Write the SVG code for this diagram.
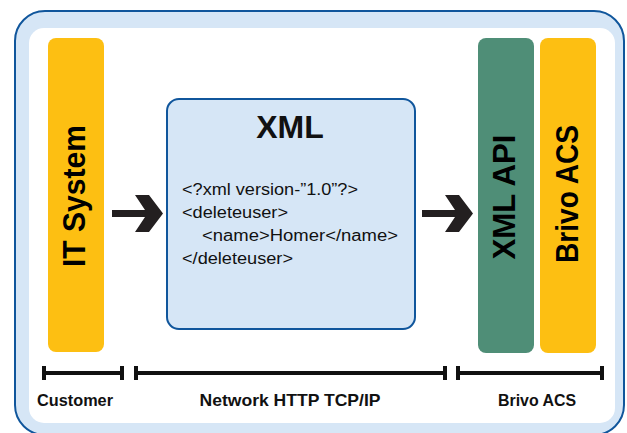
<svg xmlns="http://www.w3.org/2000/svg" width="627" height="433" viewBox="0 0 627 433">
<style>
.bar{rx:8;ry:8}
.vt{font-family:"Liberation Sans",Arial,sans-serif;font-weight:bold;font-size:31px;fill:#000;text-anchor:middle}
.code{font-family:"Liberation Sans",Arial,sans-serif;font-size:16px;fill:#111}
.lbl{font-family:"Liberation Sans",Arial,sans-serif;font-weight:bold;font-size:16.5px;fill:#111;text-anchor:middle}
.arrow{fill:#231f20}
.scale{stroke:#111;stroke-width:4;fill:none}
</style>
<defs>
<polygon id="arr" points="112,210 145,210 135,195 149,195 163,213.5 149,232 135,232 145,217 112,217"/>
</defs>
<g id="frame">
<rect x="15" y="11" width="609" height="424" rx="30" fill="#d6e6f6" stroke="#10569c" stroke-width="2"/>
<rect x="29" y="28" width="586" height="395" rx="15" fill="#ffffff"/>
</g>
<g id="it-system">
<rect class="bar" x="48" y="38" width="56" height="314" fill="#fdbf12"/>
<text class="vt" transform="translate(85,196) rotate(-90)" textLength="142" lengthAdjust="spacingAndGlyphs">IT System</text>
</g>
<g id="xml">
<rect x="167" y="99" width="248" height="230" rx="12" fill="#d6e6f6" stroke="#10569c" stroke-width="2"/>
<text x="290" y="138" font-family="Liberation Sans, Arial, sans-serif" font-weight="bold" font-size="32" text-anchor="middle" fill="#111">XML</text>
<text class="code" x="182" y="195" textLength="176" lengthAdjust="spacingAndGlyphs">&lt;?xml version-”1.0”?&gt;</text>
<text class="code" x="182" y="218" textLength="106" lengthAdjust="spacingAndGlyphs">&lt;deleteuser&gt;</text>
<text class="code" x="202" y="241" textLength="196" lengthAdjust="spacingAndGlyphs">&lt;name&gt;Homer&lt;/name&gt;</text>
<text class="code" x="182" y="264" textLength="111" lengthAdjust="spacingAndGlyphs">&lt;/deleteuser&gt;</text>
</g>
<g id="xml-api">
<rect class="bar" x="478" y="38" width="56" height="315" fill="#4f8e77"/>
<text class="vt" transform="translate(515,197) rotate(-90)" textLength="125" lengthAdjust="spacingAndGlyphs">XML API</text>
</g>
<g id="brivo-acs">
<rect class="bar" x="540" y="38" width="56" height="315" fill="#fdbf12"/>
<text class="vt" transform="translate(578,194) rotate(-90)" textLength="138" lengthAdjust="spacingAndGlyphs">Brivo ACS</text>
</g>
<g id="connectors">
<use href="#arr" class="arrow"/>
<use href="#arr" class="arrow" transform="translate(310,0)"/>
</g>
<g id="scale">
<path class="scale" d="M42,373 H124 M44,366 V380 M122,366 V380"/>
<path class="scale" d="M134,373 H447 M136,366 V380 M445,366 V380"/>
<path class="scale" d="M456,373 H604 M458,366 V380 M602,366 V380"/>
<text class="lbl" x="75" y="406" textLength="76" lengthAdjust="spacingAndGlyphs">Customer</text>
<text class="lbl" x="290" y="406" textLength="181" lengthAdjust="spacingAndGlyphs">Network HTTP TCP/IP</text>
<text class="lbl" x="537" y="406" textLength="78" lengthAdjust="spacingAndGlyphs">Brivo ACS</text>
</g>
</svg>
